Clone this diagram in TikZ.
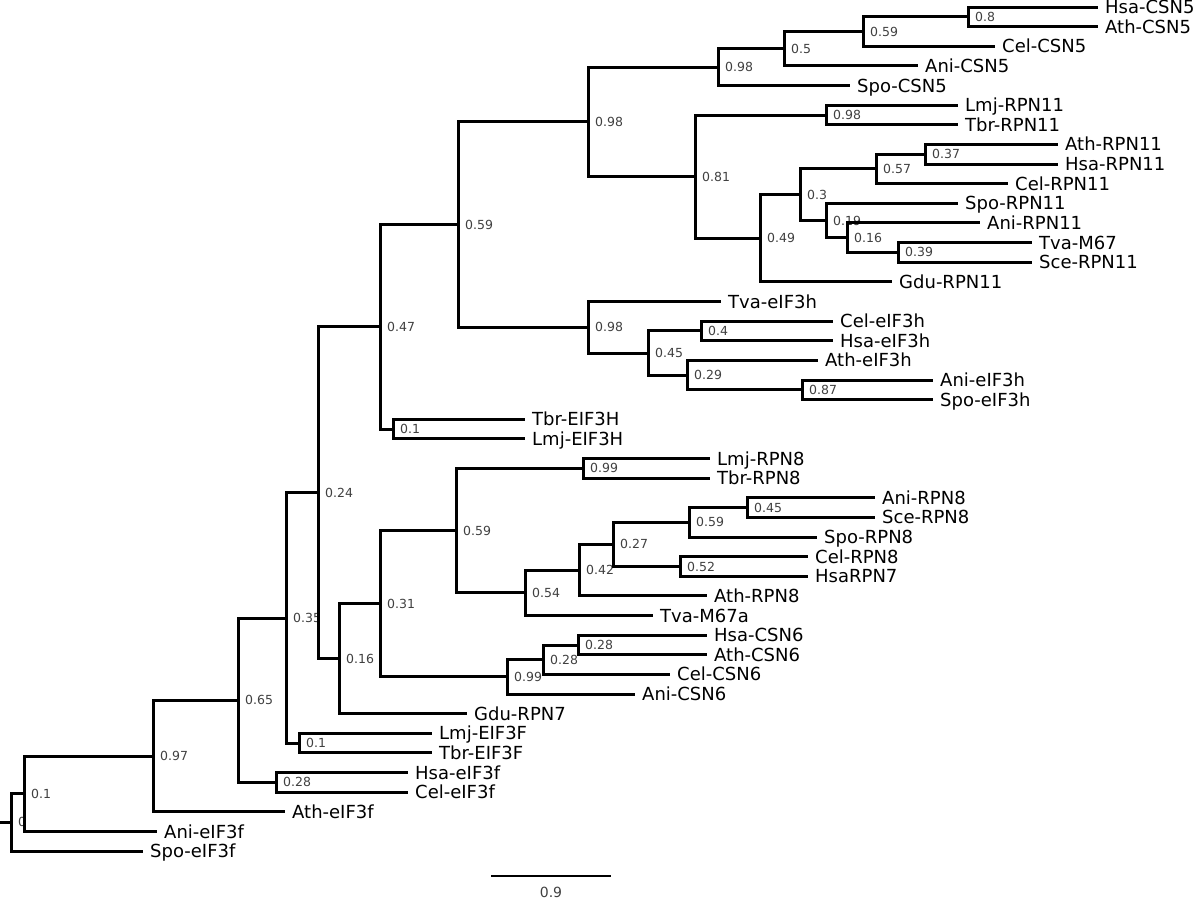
\documentclass[tikz,border=0pt]{standalone}
\usepackage{fontspec}
\setmainfont{DejaVu Sans}

\begin{document}
\begin{tikzpicture}[
  x=1pt, y=-1pt,
  leaf/.style={anchor=west, inner xsep=7pt, inner ysep=0pt,
               font=\fontsize{18}{18}\selectfont, text height=13.1pt, text depth=0pt},
  supp/.style={anchor=west, inner xsep=7pt, inner ysep=0pt, text=black!75,
               font=\fontsize{12.5}{12.5}\selectfont, text height=9.1pt, text depth=0pt},
  branch/.style={line width=3pt}
]
\useasboundingbox (0,0) rectangle (1200,900);

% leaves, top to bottom
\node[leaf] (hsacsn5) at (1098,7.0) {Hsa-CSN5};
\node[leaf] (athcsn5) at (1098,26.6) {Ath-CSN5};
\node[leaf] (celcsn5) at (995,46.3) {Cel-CSN5};
\node[leaf] (anicsn5) at (918,65.9) {Ani-CSN5};
\node[leaf] (spocsn5) at (850,85.5) {Spo-CSN5};
\node[leaf] (lmjrpn11) at (958,105.2) {Lmj-RPN11};
\node[leaf] (tbrrpn11) at (958,124.8) {Tbr-RPN11};
\node[leaf] (athrpn11) at (1058,144.4) {Ath-RPN11};
\node[leaf] (hsarpn11) at (1058,164.0) {Hsa-RPN11};
\node[leaf] (celrpn11) at (1008,183.7) {Cel-RPN11};
\node[leaf] (sporpn11) at (958,203.3) {Spo-RPN11};
\node[leaf] (anirpn11) at (980,222.9) {Ani-RPN11};
\node[leaf] (tvam67) at (1032,242.6) {Tva-M67};
\node[leaf] (scerpn11) at (1032,262.2) {Sce-RPN11};
\node[leaf] (gdurpn11) at (892,281.8) {Gdu-RPN11};
\node[leaf] (tvaeif3h) at (721,301.5) {Tva-eIF3h};
\node[leaf] (celeif3h) at (833,321.1) {Cel-eIF3h};
\node[leaf] (hsaeif3h) at (833,340.7) {Hsa-eIF3h};
\node[leaf] (atheif3h) at (818,360.3) {Ath-eIF3h};
\node[leaf] (anieif3h) at (933,380.0) {Ani-eIF3h};
\node[leaf] (spoeif3h) at (933,399.6) {Spo-eIF3h};
\node[leaf] (tbrbigh) at (525,419.2) {Tbr-EIF3H};
\node[leaf] (lmjbigh) at (525,438.9) {Lmj-EIF3H};
\node[leaf] (lmjrpn8) at (710,458.5) {Lmj-RPN8};
\node[leaf] (tbrrpn8) at (710,478.1) {Tbr-RPN8};
\node[leaf] (anirpn8) at (875,497.8) {Ani-RPN8};
\node[leaf] (scerpn8) at (875,517.4) {Sce-RPN8};
\node[leaf] (sporpn8) at (817,537.0) {Spo-RPN8};
\node[leaf] (celrpn8) at (808,556.6) {Cel-RPN8};
\node[leaf] (hsarpn7) at (808,576.3) {HsaRPN7};
\node[leaf] (athrpn8) at (707,595.9) {Ath-RPN8};
\node[leaf] (tvam67a) at (653,615.5) {Tva-M67a};
\node[leaf] (hsacsn6) at (707,635.2) {Hsa-CSN6};
\node[leaf] (athcsn6) at (707,654.8) {Ath-CSN6};
\node[leaf] (celcsn6) at (670,674.4) {Cel-CSN6};
\node[leaf] (anicsn6) at (635,694.1) {Ani-CSN6};
\node[leaf] (gdurpn7) at (467,713.7) {Gdu-RPN7};
\node[leaf] (lmjbigf) at (432,733.3) {Lmj-EIF3F};
\node[leaf] (tbrbigf) at (432,752.9) {Tbr-EIF3F};
\node[leaf] (hsaeif3f) at (408,772.6) {Hsa-eIF3f};
\node[leaf] (celeif3f) at (408,792.2) {Cel-eIF3f};
\node[leaf] (atheif3f) at (285,811.8) {Ath-eIF3f};
\node[leaf] (anieif3f) at (157,831.5) {Ani-eIF3f};
\node[leaf] (spoeif3f) at (143,851.1) {Spo-eIF3f};

% inner nodes with support values
\coordinate (csna) at (968,16.8);   \node[supp] (csnal) at (csna) {0.8};
\coordinate (csnb) at (863,31.5);   \node[supp] (csnbl) at (csnb) {0.59};
\coordinate (csnc) at (784,48.7);   \node[supp] (csncl) at (csnc) {0.5};
\coordinate (csnd) at (718,67.1);   \node[supp] (csndl) at (csnd) {0.98};
\coordinate (rpna) at (826,115.0);  \node[supp] (rpnal) at (rpna) {0.98};
\coordinate (rpnb) at (925,154.2);  \node[supp] (rpnbl) at (rpnb) {0.37};
\coordinate (rpnc) at (876,168.9);  \node[supp] (rpncl) at (rpnc) {0.57};
\coordinate (rpnd) at (898,252.4);  \node[supp] (rpndl) at (rpnd) {0.39};
\coordinate (rpne) at (847,237.7);  \node[supp] (rpnel) at (rpne) {0.16};
\coordinate (rpnf) at (826,220.5);  \node[supp] (rpnfl) at (rpnf) {0.19};
\coordinate (rpng) at (800,194.7);  \node[supp] (rpngl) at (rpng) {0.3};
\coordinate (rpnh) at (760,238.3);  \node[supp] (rpnhl) at (rpnh) {0.49};
\coordinate (rpni) at (695,176.6);  \node[supp] (rpnil) at (rpni) {0.81};
\coordinate (jpa) at (588,121.9);   \node[supp] (jpal) at (jpa) {0.98};
\coordinate (eifa) at (701,330.9);  \node[supp] (eifal) at (eifa) {0.4};
\coordinate (eifb) at (802,389.8);  \node[supp] (eifbl) at (eifb) {0.87};
\coordinate (eifc) at (687,375.1);  \node[supp] (eifcl) at (eifc) {0.29};
\coordinate (eifd) at (648,353.0);  \node[supp] (eifdl) at (eifd) {0.45};
\coordinate (eife) at (588,327.3);  \node[supp] (eifel) at (eife) {0.98};
\coordinate (jpb) at (458,224.6);   \node[supp] (jpbl) at (jpb) {0.59};
\coordinate (bigh) at (393,429.0);  \node[supp] (bighl) at (bigh) {0.1};
\coordinate (jpc) at (380,326.8);   \node[supp] (jpcl) at (jpc) {0.47};
\coordinate (rpta) at (583,468.3);  \node[supp] (rptal) at (rpta) {0.99};
\coordinate (rptb) at (747,507.6);  \node[supp] (rptbl) at (rptb) {0.45};
\coordinate (rptc) at (689,522.3);  \node[supp] (rptcl) at (rptc) {0.59};
\coordinate (rptd) at (680,566.5);  \node[supp] (rptdl) at (rptd) {0.52};
\coordinate (rpte) at (613,544.4);  \node[supp] (rptel) at (rpte) {0.27};
\coordinate (rptf) at (579,570.2);  \node[supp] (rptfl) at (rptf) {0.42};
\coordinate (rptg) at (525,592.8);  \node[supp] (rptgl) at (rptg) {0.54};
\coordinate (rpth) at (456,530.6);  \node[supp] (rpthl) at (rpth) {0.59};
\coordinate (csxa) at (578,645.0);  \node[supp] (csxal) at (csxa) {0.28};
\coordinate (csxb) at (543,659.7);  \node[supp] (csxbl) at (csxb) {0.28};
\coordinate (csxc) at (507,676.9);  \node[supp] (csxcl) at (csxc) {0.99};
\coordinate (jpd) at (380,603.7);   \node[supp] (jpdl) at (jpd) {0.31};
\coordinate (jpe) at (339,658.7);   \node[supp] (jpel) at (jpe) {0.16};
\coordinate (jpf) at (318,492.8);   \node[supp] (jpfl) at (jpf) {0.24};
\coordinate (bigf) at (299,743.1);  \node[supp] (bigfl) at (bigf) {0.1};
\coordinate (jpg) at (286,618.0);   \node[supp] (jpgl) at (jpg) {0.35};
\coordinate (eiff) at (276,782.4);  \node[supp] (eiffl) at (eiff) {0.28};
\coordinate (jph) at (238,700.2);   \node[supp] (jphl) at (jph) {0.65};
\coordinate (jpi) at (153,756.0);   \node[supp] (jpil) at (jpi) {0.97};
\coordinate (jpj) at (24,793.7);    \node[supp] (jpjl) at (jpj) {0.1};
\coordinate (root) at (11,822.4);   \node[supp] (rootl) at (root) {0};
\coordinate (stem) at (0,822.4);

% branches
\draw[branch] (csna) |- (hsacsn5.west) (csna) |- (athcsn5.west);
\draw[branch] (csnb) |- (csna) (csnb) |- (celcsn5.west);
\draw[branch] (csnc) |- (csnb) (csnc) |- (anicsn5.west);
\draw[branch] (csnd) |- (csnc) (csnd) |- (spocsn5.west);
\draw[branch] (rpna) |- (lmjrpn11.west) (rpna) |- (tbrrpn11.west);
\draw[branch] (rpnb) |- (athrpn11.west) (rpnb) |- (hsarpn11.west);
\draw[branch] (rpnc) |- (rpnb) (rpnc) |- (celrpn11.west);
\draw[branch] (rpnd) |- (tvam67.west) (rpnd) |- (scerpn11.west);
\draw[branch] (rpne) |- (anirpn11.west) (rpne) |- (rpnd);
\draw[branch] (rpnf) |- (sporpn11.west) (rpnf) |- (rpne);
\draw[branch] (rpng) |- (rpnc) (rpng) |- (rpnf);
\draw[branch] (rpnh) |- (rpng) (rpnh) |- (gdurpn11.west);
\draw[branch] (rpni) |- (rpna) (rpni) |- (rpnh);
\draw[branch] (jpa) |- (csnd) (jpa) |- (rpni);
\draw[branch] (eifa) |- (celeif3h.west) (eifa) |- (hsaeif3h.west);
\draw[branch] (eifb) |- (anieif3h.west) (eifb) |- (spoeif3h.west);
\draw[branch] (eifc) |- (atheif3h.west) (eifc) |- (eifb);
\draw[branch] (eifd) |- (eifa) (eifd) |- (eifc);
\draw[branch] (eife) |- (tvaeif3h.west) (eife) |- (eifd);
\draw[branch] (jpb) |- (jpa) (jpb) |- (eife);
\draw[branch] (bigh) |- (tbrbigh.west) (bigh) |- (lmjbigh.west);
\draw[branch] (jpc) |- (jpb) (jpc) |- (bigh);
\draw[branch] (rpta) |- (lmjrpn8.west) (rpta) |- (tbrrpn8.west);
\draw[branch] (rptb) |- (anirpn8.west) (rptb) |- (scerpn8.west);
\draw[branch] (rptc) |- (rptb) (rptc) |- (sporpn8.west);
\draw[branch] (rptd) |- (celrpn8.west) (rptd) |- (hsarpn7.west);
\draw[branch] (rpte) |- (rptc) (rpte) |- (rptd);
\draw[branch] (rptf) |- (rpte) (rptf) |- (athrpn8.west);
\draw[branch] (rptg) |- (rptf) (rptg) |- (tvam67a.west);
\draw[branch] (rpth) |- (rpta) (rpth) |- (rptg);
\draw[branch] (csxa) |- (hsacsn6.west) (csxa) |- (athcsn6.west);
\draw[branch] (csxb) |- (csxa) (csxb) |- (celcsn6.west);
\draw[branch] (csxc) |- (csxb) (csxc) |- (anicsn6.west);
\draw[branch] (jpd) |- (rpth) (jpd) |- (csxc);
\draw[branch] (jpe) |- (jpd) (jpe) |- (gdurpn7.west);
\draw[branch] (jpf) |- (jpc) (jpf) |- (jpe);
\draw[branch] (bigf) |- (lmjbigf.west) (bigf) |- (tbrbigf.west);
\draw[branch] (jpg) |- (jpf) (jpg) |- (bigf);
\draw[branch] (eiff) |- (hsaeif3f.west) (eiff) |- (celeif3f.west);
\draw[branch] (jph) |- (jpg) (jph) |- (eiff);
\draw[branch] (jpi) |- (jph) (jpi) |- (atheif3f.west);
\draw[branch] (jpj) |- (jpi) (jpj) |- (anieif3f.west);
\draw[branch] (root) |- (jpj) (root) |- (spoeif3f.west);
\draw[branch] (stem) -- (root);

% scale bar
\coordinate (bara) at (491,876);
\coordinate (barb) at (611,876);
\draw[line width=1.6pt] (bara) -- (barb);
\node[text=black!75, font=\fontsize{14}{14}\selectfont, text height=10.2pt, text depth=0pt, inner sep=0pt] (barlab) at (551,892) {0.9};
\end{tikzpicture}
\end{document}
